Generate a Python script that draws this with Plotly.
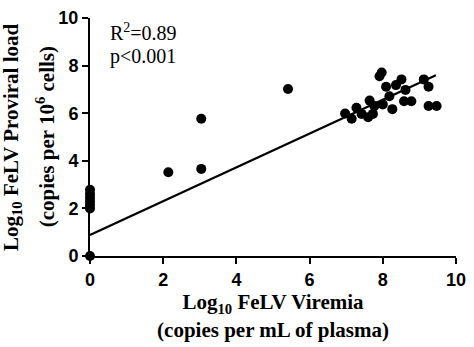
import numpy as np
import plotly.graph_objects as go

# Log10 viremia (x) and log10 proviral load (y) per cat
viremia = [0, 0, 0, 0, 0, 0, 0,
           2.14, 3.04, 3.04, 5.41,
           6.97, 7.15, 7.28, 7.42, 7.60, 7.64, 7.73, 7.77,
           7.91, 7.97, 8.00, 8.09, 8.18, 8.26, 8.36, 8.51,
           8.58, 8.62, 8.78, 9.12, 9.25, 9.25, 9.47]
proviral = [0, 2.0, 2.15, 2.3, 2.45, 2.6, 2.78,
            3.52, 3.66, 5.77, 7.02,
            5.99, 5.77, 6.23, 5.97, 5.83, 6.53, 5.97, 6.30,
            7.55, 7.71, 6.37, 7.11, 6.71, 6.17, 7.18, 7.42,
            6.50, 6.98, 6.50, 7.42, 7.11, 6.30, 6.30]

# Linear regression fit
fit_intercept = 0.88
fit_slope = 0.71
fit_x = [0, 9.45]
fit_y = [fit_intercept + fit_slope * v for v in fit_x]

x_ticks = [0, 2, 4, 6, 8, 10]
y_ticks = [0, 2, 4, 6, 8, 10]

fig = go.Figure()
fig.add_trace(go.Scatter(x=fit_x, y=fit_y, mode="lines",
                         line=dict(color="black", width=2.2),
                         hoverinfo="skip", showlegend=False))
fig.add_trace(go.Scatter(x=viremia, y=proviral, mode="markers",
                         marker=dict(color="black", size=10, line=dict(width=0)),
                         cliponaxis=False, showlegend=False))

serif = "Liberation Serif, Times New Roman, serif"
sans = "Liberation Sans, Arial, sans-serif"
axis_font = dict(family=serif, size=21, color="black")
stat_font = dict(family=serif, size=20, color="black")

fig.update_layout(
    width=474, height=347,
    margin=dict(l=90, r=11, t=8, b=91),
    paper_bgcolor="white", plot_bgcolor="white",
    xaxis=dict(range=[0, 10], tickvals=x_ticks, showgrid=False, zeroline=False,
               showline=True, linecolor="black", linewidth=2,
               ticks="outside", ticklen=6, tickwidth=2, tickcolor="black",
               ticklabeloverflow="allow",
               tickfont=dict(family=sans, size=18, color="black", weight="bold"),
               title=dict(text="<b>Log<sub>10</sub> FeLV Viremia<br>(copies per mL of plasma)</b>",
                          font=axis_font, standoff=6)),
    yaxis=dict(range=[0, 10], tickvals=y_ticks, showgrid=False, zeroline=False,
               showline=True, linecolor="black", linewidth=2,
               ticks="outside", ticklen=6, tickwidth=2, tickcolor="black",
               ticklabeloverflow="allow",
               tickfont=dict(family=sans, size=18, color="black", weight="bold")),
    annotations=[
        dict(x=0.048, y=0.94, xref="paper", yref="paper",
             xanchor="left", yanchor="middle", showarrow=False,
             text="R<sup>2</sup>=0.89", font=stat_font),
        dict(x=0.048, y=0.84, xref="paper", yref="paper",
             xanchor="left", yanchor="middle", showarrow=False,
             text="p<0.001", font=stat_font),
        # y-axis title, two rotated lines
        dict(x=-0.213, y=0.5, xref="paper", yref="paper",
             xanchor="center", yanchor="middle", textangle=-90, showarrow=False,
             text="<b>Log<sub>10</sub> FeLV Proviral load</b>", font=axis_font),
        dict(x=-0.122, y=0.5, xref="paper", yref="paper",
             xanchor="center", yanchor="middle", textangle=-90, showarrow=False,
             text="<b>(copies per 10<sup>6</sup> cells)</b>", font=axis_font),
    ],
)

fig.write_html("out.html")
